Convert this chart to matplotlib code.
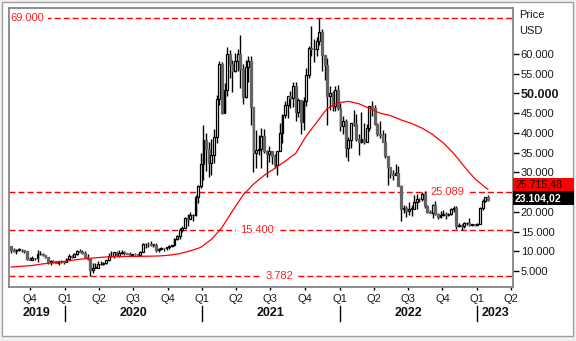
import matplotlib
matplotlib.use('Agg')
import matplotlib.pyplot as plt
import matplotlib.dates as mdates
from matplotlib.patches import Rectangle
import pandas as pd

plt.rcParams['font.family'] = ['Liberation Sans', 'DejaVu Sans']

# BTC/USD weekly candles (weeks starting on Monday 12.08.2019)
opens = [
    # 2019
    11390, 10320, 10140, 10380, 10390, 10300, 9990, 8050, 7880, 8290, 8230, 9200, 9200, 9040, 8500, 7400,
    7530, 7510, 7060, 7510, 7390,
    # 2020
    7360, 8100, 8920, 8600, 9330, 10150, 9920, 9660, 8530, 8030, 5370, 5830, 5880, 6780, 6860, 7120, 7700,
    8890, 8700, 9700, 8900, 9450, 9750, 9470, 9300, 9140, 9290, 9250, 9160, 9900, 11800, 11900, 11850, 11650,
    11700, 10300, 10680, 10930, 10780, 11070, 11380, 11500, 13030, 13750, 15480, 15950, 18410, 18180, 19140,
    19270, 23840, 26440,
    # 2021
    32100, 38300, 35800, 32250, 34300, 38900, 48600, 57500, 45100, 50960, 59900, 57350, 55800, 58200, 60000,
    56200, 49000, 56600, 58250, 46500, 34800, 35700, 35800, 39100, 35500, 34700, 35300, 34250, 31800, 35400,
    39900, 44500, 47050, 49300, 48900, 51800, 45200, 48300, 42800, 48200, 54700, 61500, 61300, 61300, 63300,
    65500, 59700, 57250, 49400, 50100, 46700, 50800,
    # 2022
    46400, 41800, 43100, 36300, 38200, 42400, 42200, 38400, 37700, 38400, 37800, 41300, 46800, 46400, 42200,
    39700, 39500, 37700, 34100, 31300, 29500, 29450, 29900, 26600, 20600, 21000, 20300, 20800, 20800, 22600,
    23300, 23200, 24400, 21500, 20050, 19800, 21800, 19400, 18800, 19300, 19400, 19200, 19550, 20800, 21000,
    16300, 16700, 16450, 17100, 17100, 16780, 16840,
    # 2023
    16680, 16950, 20900, 22700, 23750,
]
highs = [
    11450, 10950, 10600, 10900, 10450, 10350, 10050, 8500, 8800, 8390, 10350, 9950, 9500, 9050, 8550, 7850,
    7750, 7550, 7520, 7700, 7500,
    8400, 9200, 8950, 9600, 10200, 10500, 10250, 9950, 9190, 8200, 6950, 6980, 7450, 7470, 7300, 7750, 9480,
    10050, 9900, 9950, 10400, 10430, 10000, 9600, 9800, 9350, 9480, 9300, 10100, 12100, 12100, 12300, 12480,
    11800, 12100, 10800, 11200, 10950, 11100, 11500, 11700, 13350, 14100, 15950, 16500, 18800, 19400, 19900,
    19400, 24300, 26800, 34800,
    41950, 40100, 37800, 38500, 40950, 49700, 58350, 58000, 52600, 61800, 61100, 58400, 60200, 61200, 64850,
    57500, 58400, 59500, 59500, 46600, 40800, 39500, 41300, 41000, 35750, 36600, 35400, 34650, 35400, 42600,
    44700, 48150, 49400, 50500, 52900, 52800, 48800, 48400, 49200, 56500, 62000, 67000, 63700, 64300, 69000,
    66300, 59800, 59100, 51900, 50500, 52000, 52100,
    47500, 44400, 43500, 38900, 42600, 45800, 44700, 39800, 45400, 42600, 42300, 46900, 48200, 47000, 42400,
    42900, 40800, 40000, 34200, 31400, 30600, 32200, 31600, 26800, 21800, 21500, 22500, 21600, 24200, 24600,
    23600, 25100, 25200, 21800, 20550, 21900, 22700, 19800, 20300, 20450, 19950, 19700, 21000, 21400, 21400,
    17200, 16800, 17400, 17400, 18400, 17000, 16950,
    17100, 21300, 23300, 23800, 24250,
]
lows = [
    9500, 9900, 9350, 10000, 9900, 9650, 7800, 7800, 7800, 7900, 7300, 9000, 8700, 8400, 6800, 6550,
    7150, 7000, 6450, 7100, 6850,
    7300, 8000, 8250, 8550, 9120, 9700, 9300, 8450, 7700, 3850, 4450, 5700, 5860, 6570, 6500, 6800, 7650,
    8500, 8200, 8800, 8650, 9250, 9000, 9200, 8830, 8950, 9150, 9050, 9130, 9850, 10900, 11150, 11380,
    11100, 9900, 9900, 10650, 10150, 10400, 10550, 11200, 11400, 12900, 13200, 14850, 15800, 16300, 18050,
    17600, 19000, 22300, 26000,
    28100, 30400, 28850, 29250, 32300, 37400, 47000, 44900, 45000, 49300, 54000, 50400, 55400, 55600, 51500,
    47200, 48800, 53000, 42000, 30000, 31100, 34500, 31000, 34800, 28800, 32700, 32100, 31000, 29300, 35300,
    37500, 43800, 43900, 46300, 46500, 43000, 44000, 39600, 40800, 46900, 54000, 59600, 58000, 59500, 62300,
    55600, 53500, 42000, 45700, 45500, 45600, 45700,
    40600, 39600, 34000, 32900, 36300, 41700, 38000, 34400, 37500, 37200, 37600, 40500, 44300, 41900, 39200,
    38600, 37600, 33700, 26700, 28600, 28000, 29300, 26500, 17600, 19700, 18800, 19300, 18900, 20700, 20800,
    22400, 22700, 21000, 19800, 19600, 18500, 19300, 18100, 18500, 19000, 18200, 18900, 19200, 20000, 15600,
    16200, 15500, 16000, 16700, 16500, 16300, 16400,
    16600, 16900, 20400, 22500, 22800,
]
closes = [
    10320, 10140, 10380, 10390, 10300, 9990, 8050, 7880, 8290, 8230, 9200, 9200, 9040, 8500, 7400, 7530,
    7510, 7060, 7510, 7390, 7360,
    8100, 8920, 8600, 9330, 10150, 9920, 9660, 8530, 8030, 5370, 5830, 5880, 6780, 6860, 7120, 7700, 8890,
    8700, 9700, 8900, 9450, 9750, 9470, 9300, 9140, 9290, 9250, 9160, 9900, 11800, 11900, 11850, 11650,
    11700, 10300, 10680, 10930, 10780, 11070, 11380, 11500, 13030, 13750, 15480, 15950, 18410, 18180, 19140,
    19270, 23840, 26440, 32100,
    38300, 35800, 32250, 34300, 38900, 48600, 57500, 45100, 50960, 59900, 57350, 55800, 58200, 60000, 56200,
    49000, 56600, 58250, 46500, 34800, 35700, 35800, 39100, 35500, 34700, 35300, 34250, 31800, 35400, 39900,
    44500, 47050, 49300, 48900, 51800, 45200, 48300, 42800, 48200, 54700, 61500, 61300, 61300, 63300, 65500,
    59700, 57250, 49400, 50100, 46700, 50800, 46400,
    41800, 43100, 36300, 38200, 42400, 42200, 38400, 37700, 38400, 37800, 41300, 46800, 46400, 42200, 39700,
    39500, 37700, 34100, 31300, 29500, 29450, 29900, 26600, 20600, 21000, 20300, 20800, 20800, 22600, 23300,
    23200, 24400, 21500, 20050, 19800, 21800, 19400, 18800, 19300, 19400, 19200, 19550, 20800, 21000, 16300,
    16700, 16450, 17100, 17100, 16780, 16840, 16680,
    16950, 20900, 22700, 23750, 23104.02,
]

# 52-week moving average, one point every 4 weeks (+ last week)
ma_week = [0, 4, 8, 12, 16, 20, 24, 28, 32, 36, 40, 44, 48, 52, 56, 60, 64, 68, 72, 76, 80, 84, 88, 92,
           96, 100, 104, 108, 112, 116, 120, 124, 128, 132, 136, 140, 144, 148, 152, 156, 160, 164, 168,
           172, 176, 180, 181]
ma_value = [6000, 6200, 6400, 6800, 7100, 7400, 7800, 8100, 8350, 8550, 8650, 8700, 8700, 8750, 8800,
            9000, 9400, 10100, 11000, 13000, 16000, 20200, 24200, 27000, 29200, 31000, 32800, 34800, 39200,
            42700, 46200, 47600, 48000, 47400, 46200, 45000, 44400, 43300, 42400, 41200, 39600, 37500,
            34800, 31500, 28400, 26200, 25715.48]
ma_last = '25.715,48'
price_last = '23.104,02'

# support / resistance levels
levels = [69000, 25089, 15400, 3782]
level_labels = ['69.000', '25.089', '15.400', '3.782']
level_label_pos = [0.003, 0.869, 0.491, 0.537]
level_label_ha = ['left', 'center', 'center', 'center']

yticks = list(range(5000, 60001, 5000))
quarters = ['2019-10-01', '2020-01-01', '2020-04-01', '2020-07-01', '2020-10-01', '2021-01-01',
            '2021-04-01', '2021-07-01', '2021-10-01', '2022-01-01', '2022-04-01', '2022-07-01',
            '2022-10-01', '2023-01-01', '2023-04-01']
quarter_labels = ['Q4', 'Q1', 'Q2', 'Q3', 'Q4', 'Q1', 'Q2', 'Q3', 'Q4', 'Q1', 'Q2', 'Q3', 'Q4', 'Q1', 'Q2']
years = ['2019', '2020', '2021', '2022', '2023']

assert len(opens) == len(highs) == len(lows) == len(closes)
for o, h, l, c in zip(opens, highs, lows, closes):
    assert h >= max(o, c) and l <= min(o, c), (o, h, l, c)

weeks = pd.date_range('2019-08-12', periods=len(closes), freq='7D')
xw = mdates.date2num(weeks)
x_left = mdates.date2num(pd.Timestamp('2019-08-07'))
x_right = mdates.date2num(pd.Timestamp('2023-04-06 16:00'))

W, H = 576, 341
fig = plt.figure(figsize=(W / 100, H / 100), dpi=100, facecolor='#f0f0f0')
fig.patches.append(Rectangle((2 / W, 1 - 336 / H), 571 / W, 334 / H, transform=fig.transFigure,
                             facecolor='white', edgecolor='#a0a0a0', lw=1.0, zorder=-5))

ax = fig.add_axes([9.3 / W, 1 - 287 / H, (513 - 9.3) / W, (287 - 8) / H], zorder=1)
ax.set_facecolor('white')
for sp in ax.spines.values():
    sp.set_color('#84848e')
    sp.set_linewidth(1.3)

# candles: wicks first, bodies on top
ax.vlines(xw, lows, highs, color='black', lw=1.0, zorder=4)
up = [c >= o for o, c in zip(opens, closes)]
body_bottom = [min(o, c) for o, c in zip(opens, closes)]
body_height = [max(abs(c - o), 80) for o, c in zip(opens, closes)]
ax.bar(xw, body_height, bottom=body_bottom, width=4.8,
       color=['white' if u else '#646464' for u in up],
       edgecolor=['black' if u else '#646464' for u in up], lw=0.9, zorder=5)

# moving average
ax.plot(xw[ma_week], ma_value, color='#ff0000', lw=0.9, zorder=6)

# horizontal levels
for lv, lab, pos, ha in zip(levels, level_labels, level_label_pos, level_label_ha):
    ax.axhline(lv, color='#ff0000', lw=1.0, dashes=(4.3, 2.2), zorder=1)
    ax.text(pos, lv, lab, transform=ax.get_yaxis_transform(), ha=ha, va='center',
            color='#ff2020', fontsize=8,
            bbox=dict(facecolor='white', edgecolor='none', pad=2.5), zorder=2)

ax.set_xlim(x_left, x_right)
ax.set_ylim(940, 71660)

# right price scale; 25.000 sits under the value boxes
ax.yaxis.tick_right()
ax.set_yticks(yticks)
ax.set_yticklabels(['' if v == 25000 else f'{v:,}'.replace(',', '.') for v in yticks])
ax.tick_params(axis='y', direction='out', length=4, width=1, color='black', pad=1.5,
               labelsize=8, labelcolor='#1a1a1a')
for lbl in ax.get_yticklabels():
    if lbl.get_text() == '50.000':
        lbl.set_fontweight('bold')
        lbl.set_fontsize(9)

# quarter ticks
qx = mdates.date2num(pd.to_datetime(quarters))
ax.set_xticks(qx)
ax.set_xticklabels(quarter_labels)
ax.tick_params(axis='x', direction='out', length=2.5, width=1, color='black', pad=2.5,
               labelsize=8, labelcolor='#1a1a1a')

# year captions and separators
year_starts = [mdates.date2num(pd.Timestamp(f'{y}-01-01')) for y in ['2020', '2021', '2022', '2023']]
bounds = [x_left] + year_starts + [x_right]
trans = ax.get_xaxis_transform()
for i, y in enumerate(years):
    ax.text((bounds[i] + bounds[i + 1]) / 2, -0.093, y, transform=trans, ha='center', va='center',
            fontsize=9, fontweight='bold', color='#111111', clip_on=False)
for xs in year_starts:
    ax.plot([xs, xs], [-0.068, -0.122], transform=trans, color='black', lw=1.0, clip_on=False)

# axis caption
fig.text(519 / W, 1 - 15 / H, 'Price', fontsize=8, ha='left', va='center', color='#1a1a1a')
fig.text(519 / W, 1 - 31 / H, 'USD', fontsize=8, ha='left', va='center', color='#1a1a1a')

# last values of the MA and the price
fig.patches.append(Rectangle((513 / W, 1 - 191 / H), 61 / W, 13 / H, transform=fig.transFigure,
                             facecolor='#ff0000', edgecolor='none', zorder=3))
fig.patches.append(Rectangle((513 / W, 1 - 205 / H), 61 / W, 14 / H, transform=fig.transFigure,
                             facecolor='black', edgecolor='none', zorder=3))
fig.text(515 / W, 1 - 184.5 / H, ma_last, fontsize=7.6, ha='left', va='center', color='black', zorder=4)
fig.text(515 / W, 1 - 198.5 / H, price_last, fontsize=7.6, fontweight='bold', ha='left', va='center',
         color='white', zorder=4)

fig.savefig('out.png', dpi=100, facecolor=fig.get_facecolor())
